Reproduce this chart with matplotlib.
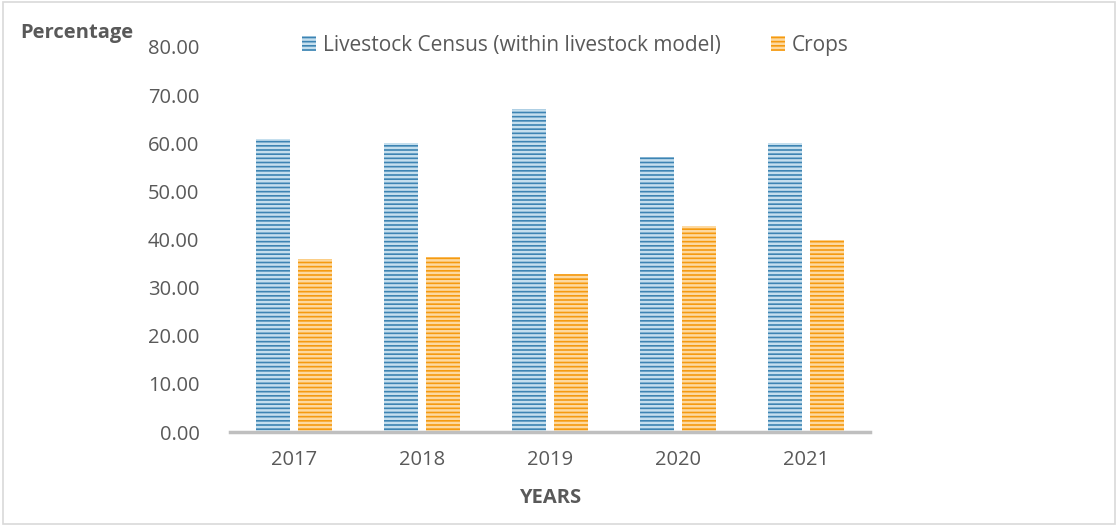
import numpy as np
import matplotlib.pyplot as plt
from matplotlib.patches import Rectangle

years = ['2017', '2018', '2019', '2020', '2021']
livestock = [60.9, 60.0, 67.2, 57.2, 60.0]
crops = [36.0, 36.4, 32.8, 42.8, 40.0]
yticks = [0, 10, 20, 30, 40, 50, 60, 70, 80]

plt.rcParams['font.family'] = ['Open Sans', 'DejaVu Sans']
plt.rcParams['hatch.linewidth'] = 1.8
text_col = '#595959'

fig = plt.figure(figsize=(11.18, 5.26), dpi=100)
# light frame around the whole chart
fig.patches.append(Rectangle((0.003, 0.004), 0.994, 0.992, transform=fig.transFigure,
                             fill=False, edgecolor='#D9D9D9', linewidth=1.2))

ax = fig.add_axes([230 / 1118, 1 - 432 / 526, 640 / 1118, 385 / 526])
x = np.arange(len(years))
w = 0.266
gap = 0.055
ax.bar(x - (w + gap) / 2, livestock, w, color='#3D84B3', edgecolor='#C5DFEE',
       linewidth=0, hatch='----', label='Livestock Census (within livestock model)')
ax.bar(x + (w + gap) / 2, crops, w, color='#F59A10', edgecolor='#FDD9A0',
       linewidth=0, hatch='----', label='Crops')

ax.set_xlim(-0.5, len(years) - 0.5)
ax.set_ylim(0, 80)
ax.set_yticks(yticks)
ax.set_yticklabels([f'{v:.2f}' for v in yticks])
ax.set_xticks(x)
ax.set_xticklabels(years)
ax.tick_params(axis='both', length=0, labelsize=14.5, colors=text_col)
ax.tick_params(axis='y', pad=22)
ax.tick_params(axis='x', pad=13)
for s in ['top', 'right', 'left']:
    ax.spines[s].set_visible(False)
ax.spines['bottom'].set_color('#BFBFBF')
ax.spines['bottom'].set_linewidth(2.5)

ax.set_xlabel('YEARS', fontsize=14.5, fontweight='bold', color=text_col, labelpad=13)
fig.text(20 / 1118, 1 - 33 / 526, 'Percentage', fontsize=14.5, fontweight='bold',
         color=text_col, va='center', ha='left')

leg = fig.legend(loc='center', bbox_to_anchor=(575 / 1118, 1 - 45 / 526), ncol=2,
                 frameon=False, fontsize=15, handlelength=0.7, handleheight=0.7,
                 handletextpad=0.3, columnspacing=2.4)
for t in leg.get_texts():
    t.set_color(text_col)

fig.savefig('out.png', dpi=100)
